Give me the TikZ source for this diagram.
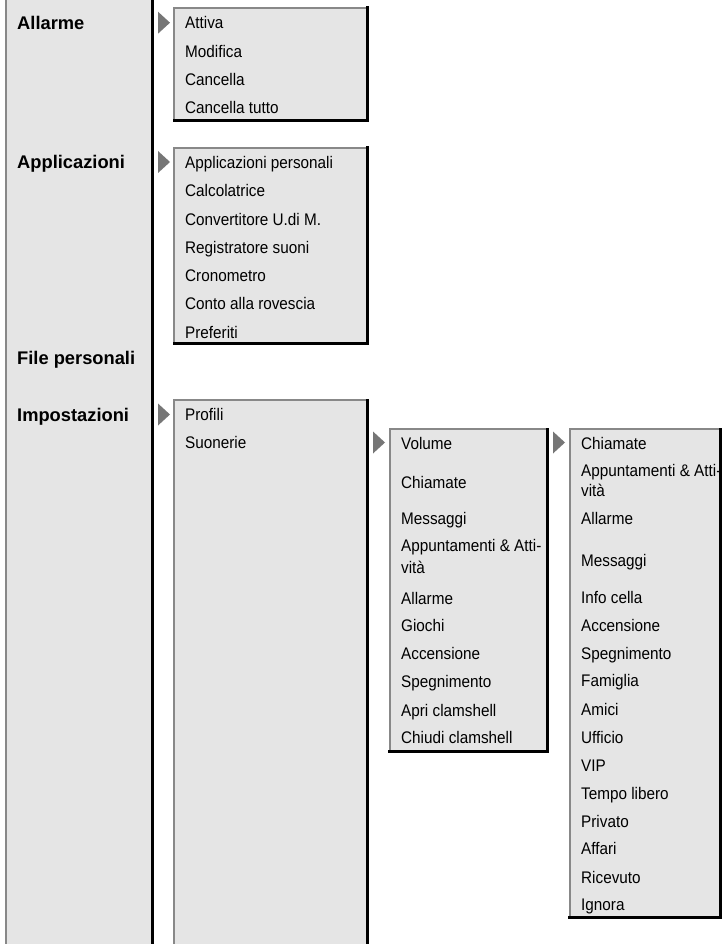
\documentclass[tikz,border=0pt]{standalone}
\usepackage{fontspec}
\setmainfont{Liberation Sans}
\newfontfamily\entryfamily[FakeStretch=0.91]{Liberation Sans}

\definecolor{panelgrey}{RGB}{229,229,229}
\definecolor{rimgrey}{RGB}{136,136,136}
\definecolor{pointergrey}{RGB}{118,118,118}

% light rim on the left and top, dark shadow rim on the right and bottom
\newcommand\drawrims[1]{%
  \draw[rimlight] (#1.south west) -- (#1.north west) -- (#1.north east);
  \draw[rimdark] (#1.north east) -- (#1.south east) -- (#1.south west);}

\tikzset{
  panel/.style={fill=panelgrey, draw=none, inner sep=0pt, outer sep=0pt, anchor=north west},
  rimlight/.style={draw=rimgrey, line width=2pt, line cap=rect},
  rimdark/.style={draw=black, line width=3pt, line cap=rect},
  head/.style={anchor=base west, inner sep=0pt, font=\bfseries\fontsize{18.3}{22}\selectfont},
  entry/.style={anchor=base west, inner sep=0pt, font=\entryfamily\fontsize{16.8}{20}\selectfont},
  pointer/.pic={\fill[pointergrey] (0,-11) -- (12,0) -- (0,11) -- cycle;}
}

\begin{document}
\begin{tikzpicture}[x=1pt, y=-1pt]
\useasboundingbox (0,0) rectangle (722,944);

% main menu column
\node[panel, minimum width=146.5pt, minimum height=990pt] (maincol) at (6,-20) {};
\drawrims{maincol}

% sub-menu panels
\node[panel, minimum width=193.5pt, minimum height=113pt] (alarmbox) at (174,8) {};
\node[panel, minimum width=193.5pt, minimum height=195.5pt] (appbox) at (174,148) {};
\node[panel, minimum width=193.5pt, minimum height=580pt] (setbox) at (174,400) {};
\node[panel, minimum width=157.5pt, minimum height=322.5pt] (ringbox) at (389.5,429) {};
\node[panel, minimum width=151pt, minimum height=488.5pt] (eventbox) at (569.5,429) {};
\drawrims{alarmbox}
\drawrims{appbox}
\drawrims{setbox}
\drawrims{ringbox}
\drawrims{eventbox}

% pointers towards the sub-menus
\pic at (158,22.7) {pointer};
\pic at (158,162) {pointer};
\pic at (158,414.5) {pointer};
\pic at (373,442.5) {pointer};
\pic at (553,442.5) {pointer};

% main menu entries
\node[head] (allarme) at (17,29.2) {Allarme};
\node[head] (applicazioni) at (17,168.5) {Applicazioni};
\node[head] (filepers) at (17,364.5) {File personali};
\node[head] (impostazioni) at (17,421) {Impostazioni};

% Allarme
\foreach \yy/\txt [count=\k] in {28.8/Attiva, 57.2/Modifica, 85.4/Cancella, 113.2/Cancella tutto}
  \node[entry] (alarm-\k) at (185,\yy) {\txt};

% Applicazioni
\foreach \yy/\txt [count=\k] in {168.2/Applicazioni personali, 196.2/Calcolatrice,
    225.2/Convertitore U.di M., 253.2/Registratore suoni, 281.2/Cronometro,
    309.7/Conto alla rovescia, 338.2/Preferiti}
  \node[entry] (app-\k) at (185,\yy) {\txt};

% Impostazioni
\node[entry] (profili) at (185,420.7) {Profili};
\node[entry] (suonerie) at (185,448.2) {Suonerie};

% Suonerie
\foreach \yy/\txt [count=\k] in {449.2/Volume, 488.2/Chiamate, 524.2/Messaggi,
    551.2/Appuntamenti \& Atti-, 573.2/vità, 604.2/Allarme, 631.2/Giochi,
    659.2/Accensione, 687.2/Spegnimento, 716.2/Apri clamshell, 743.2/Chiudi clamshell}
  \node[entry] (ring-\k) at (401,\yy) {\txt};

% Volume
\foreach \yy/\txt [count=\k] in {449.2/Chiamate, 476.2/Appuntamenti \& Atti-, 496.2/vità,
    524.2/Allarme, 566.2/Messaggi, 603.2/Info cella, 631.2/Accensione, 659.2/Spegnimento,
    686.2/Famiglia, 715.2/Amici, 743.2/Ufficio, 771.2/VIP, 799.2/Tempo libero,
    827.2/Privato, 854.2/Affari, 883.2/Ricevuto, 910.2/Ignora}
  \node[entry] (event-\k) at (581,\yy) {\txt};
\end{tikzpicture}
\end{document}
